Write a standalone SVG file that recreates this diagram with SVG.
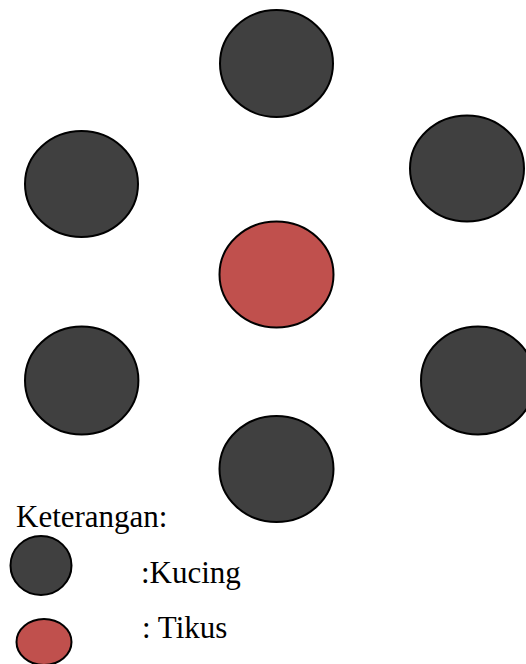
<svg xmlns="http://www.w3.org/2000/svg" width="526" height="664" viewBox="0 0 526 664">
<style>
.cat{fill:#404040;stroke:#000;stroke-width:2}
.mouse{fill:#C0504D;stroke:#000;stroke-width:2}
.t{font-family:"Liberation Serif","Times New Roman",serif;font-size:31px;fill:#000}
</style>
<rect width="526" height="664" fill="#fff"/>
<g id="connectors"></g>
<g id="cat-top"><ellipse class="cat" cx="276.5" cy="63.5" rx="56.5" ry="53.5"/></g>
<g id="cat-left-upper"><ellipse class="cat" cx="81.5" cy="184" rx="56.5" ry="53"/></g>
<g id="cat-right-upper"><ellipse class="cat" cx="467" cy="168.5" rx="57" ry="53"/></g>
<g id="mouse-center"><ellipse class="mouse" cx="276.5" cy="274.5" rx="57" ry="53"/></g>
<g id="cat-left-lower"><ellipse class="cat" cx="81.7" cy="380.5" rx="56.7" ry="54"/></g>
<g id="cat-right-lower"><ellipse class="cat" cx="478" cy="380.5" rx="57" ry="54"/></g>
<g id="cat-bottom"><ellipse class="cat" cx="276.5" cy="469" rx="57" ry="53"/></g>
<g id="legend">
<text class="t" x="16" y="527">Keterangan:</text>
<ellipse class="cat" cx="41" cy="565.5" rx="30.5" ry="29.5"/>
<text class="t" x="141" y="583">:Kucing</text>
<ellipse class="mouse" cx="44" cy="642" rx="27.5" ry="23"/>
<text class="t" x="142" y="638">: Tikus</text>
</g>
</svg>
